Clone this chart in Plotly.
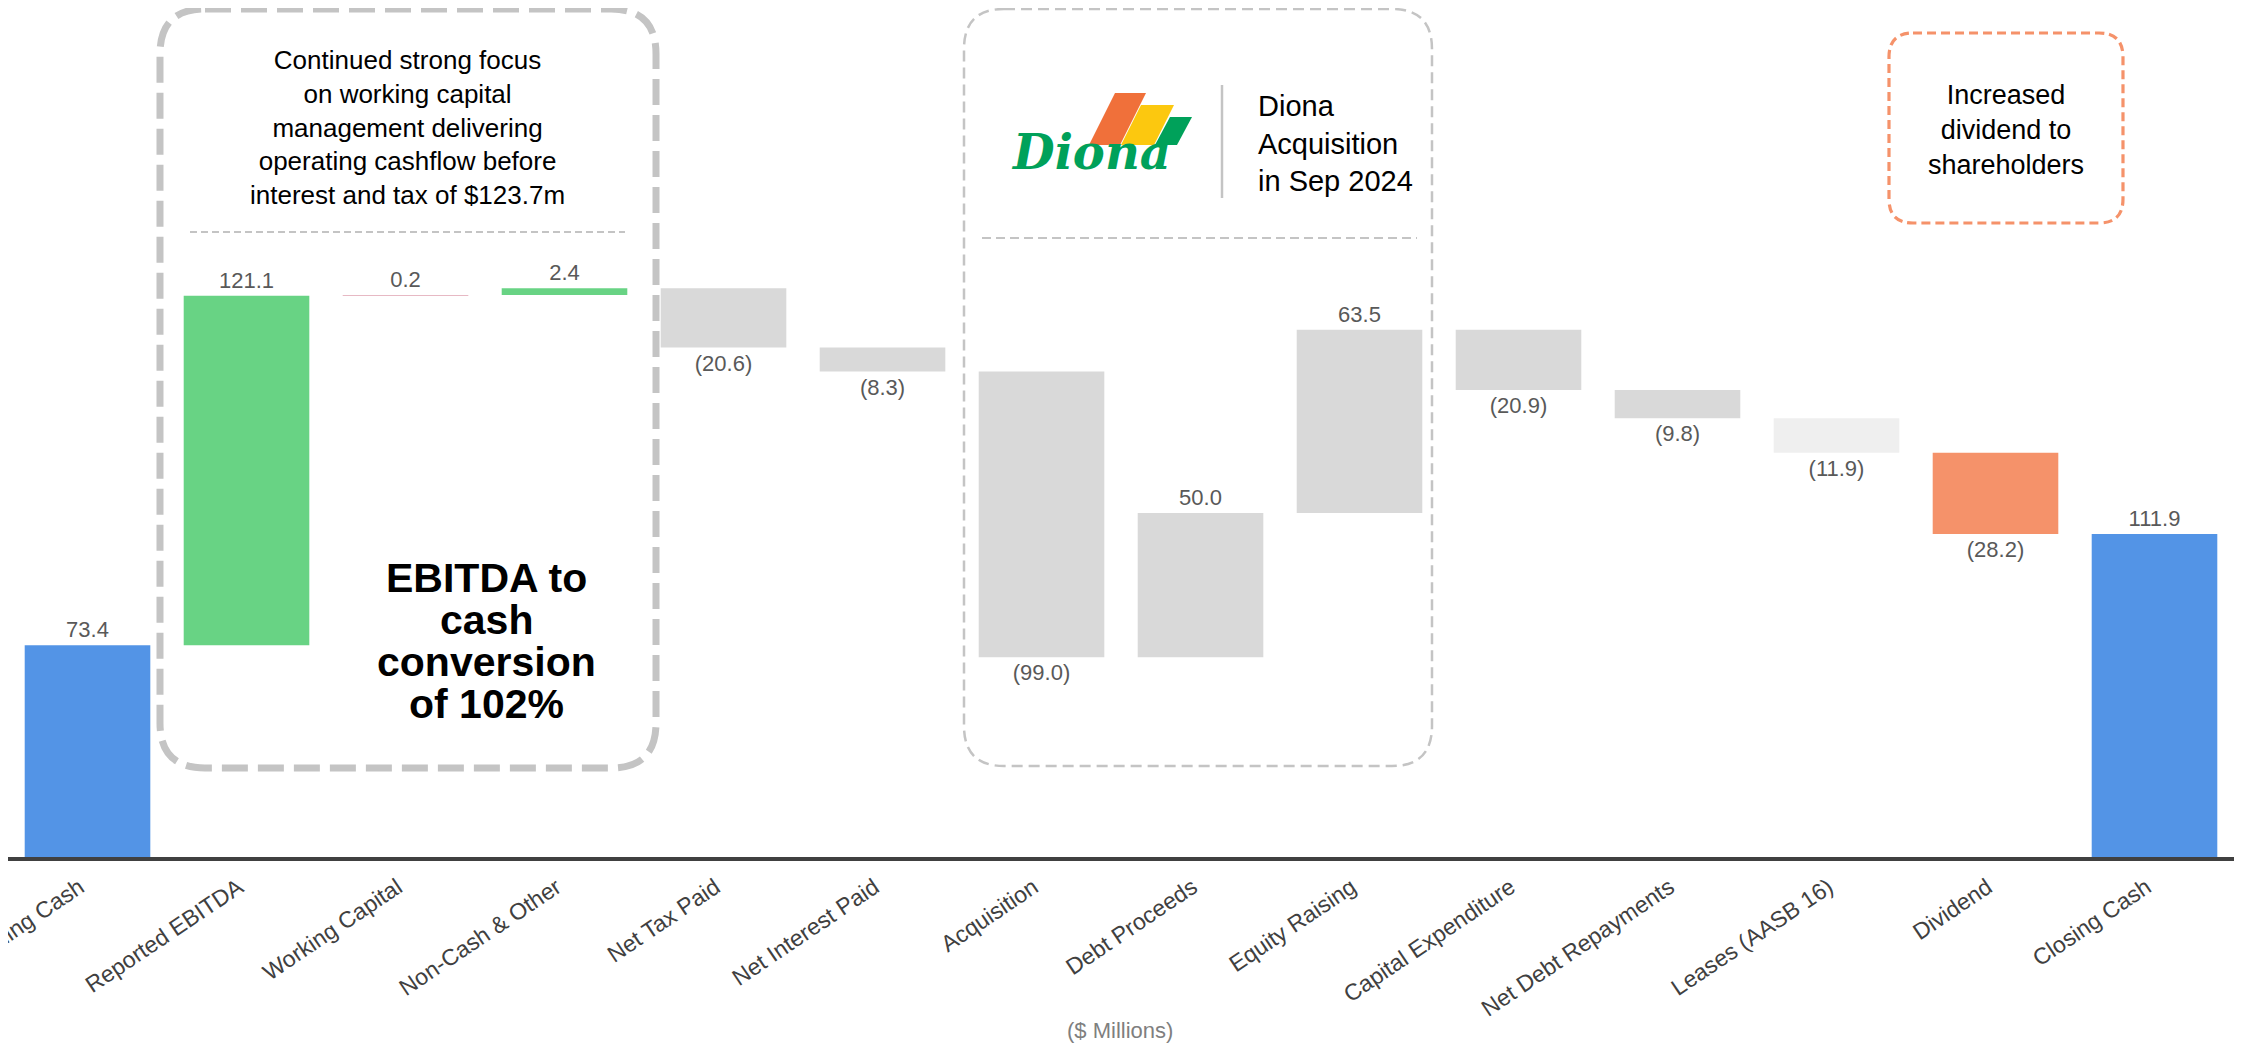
import plotly.graph_objects as go

# ---------------- data ----------------
categories = ["Opening Cash", "Reported EBITDA", "Working Capital", "Non-Cash & Other",
              "Net Tax Paid", "Net Interest Paid", "Acquisition", "Debt Proceeds",
              "Equity Raising", "Capital Expenditure", "Net Debt Repayments",
              "Leases (AASB 16)", "Dividend", "Closing Cash"]
movements = [73.4, 121.1, 0.2, 2.4, -20.6, -8.3, -99.0, 50.0, 63.5, -20.9, -9.8, -11.9, -28.2, 111.9]
kinds = ["total", "delta", "delta", "delta", "delta", "delta", "delta", "delta",
         "delta", "delta", "delta", "delta", "delta", "total"]
bar_colors = ["#5394E6", "#68D384", "#E7B9C4", "#68D384", "#D9D9D9", "#D9D9D9", "#D9D9D9",
              "#D9D9D9", "#D9D9D9", "#D9D9D9", "#D9D9D9", "#EFEFEF", "#F5926A", "#5394E6"]

box1_text = ["Continued strong focus", "on working capital", "management delivering",
             "operating cashflow before", "interest and tax of $123.7m"]
box1_big = ["EBITDA to", "cash", "conversion", "of 102%"]
box2_text = ["Diona", "Acquisition", "in Sep 2024"]
box3_text = ["Increased", "dividend to", "shareholders"]

# ---------------- layout geometry ----------------
OFF = 8  # page body offset
W, H = 2234, 1042
ML, MR, MT, MB = 0, 8, 0, 193
PW = W - ML - MR
PH = H - MT - MB
Y_MAX = PH / 2.886
FONT = "Liberation Sans, Arial, sans-serif"


def px(x):
    return (x - OFF - ML) / PW


def py(y):
    return (H - MB - (y - OFF)) / PH


def rrect(x0, y0, x1, y1, r):
    pts = [("M", [(x0 + r, y0)]), ("L", [(x1 - r, y0)]), ("Q", [(x1, y0), (x1, y0 + r)]),
           ("L", [(x1, y1 - r)]), ("Q", [(x1, y1), (x1 - r, y1)]), ("L", [(x0 + r, y1)]),
           ("Q", [(x0, y1), (x0, y1 - r)]), ("L", [(x0, y0 + r)]), ("Q", [(x0, y0), (x0 + r, y0)])]
    s = ""
    for cmd, ps in pts:
        s += cmd + " " + " ".join(f"{px(a):.5f},{py(b):.5f}" for a, b in ps) + " "
    return s + "Z"


def poly(points):
    return "M " + " L ".join(f"{px(a):.5f},{py(b):.5f}" for a, b in points) + " Z"


# ---------------- waterfall computation ----------------
bases, heights = [], []
running = 0.0
for k, v in zip(kinds, movements):
    if k == "total":
        bases.append(0.0)
        heights.append(v)
        running = v
    else:
        bases.append(running)
        heights.append(v)
        running += v

labels = [f"{v:.1f}" if v >= 0 else f"({abs(v):.1f})" for v in movements]

fig = go.Figure()
fig.add_trace(go.Bar(
    x=categories, y=heights, base=bases,
    marker=dict(color=bar_colors, line=dict(width=0)),
    text=labels, textposition="outside", textangle=0,
    textfont=dict(family=FONT, size=22, color="#595959"),
    cliponaxis=False, constraintext="none", hoverinfo="skip",
))

shapes = []
# Box 1: thick grey dashed rounded box
shapes.append(dict(type="path", xref="paper", yref="paper", path=rrect(160, 9, 656, 768, 45),
                   line=dict(color="#C4C4C4", width=7, dash="26px,10px"), layer="below"))
shapes.append(dict(type="line", xref="paper", yref="paper", x0=px(190), x1=px(625), y0=py(232), y1=py(232),
                   line=dict(color="#C4C4C4", width=2, dash="7px,4px")))
# Box 2: thin grey dashed rounded box
shapes.append(dict(type="path", xref="paper", yref="paper", path=rrect(964, 9, 1432, 766, 40),
                   line=dict(color="#C4C4C4", width=2.5, dash="11px,6px"), layer="below"))
shapes.append(dict(type="line", xref="paper", yref="paper", x0=px(982), x1=px(1417), y0=py(238), y1=py(238),
                   line=dict(color="#C4C4C4", width=2, dash="9px,5px")))
shapes.append(dict(type="line", xref="paper", yref="paper", x0=px(1222), x1=px(1222), y0=py(85), y1=py(198),
                   line=dict(color="#C4C4C4", width=2.5)))
# Diona logo stripes
shapes.append(dict(type="path", xref="paper", yref="paper",
                   path=poly([(1115, 93), (1146, 93), (1120, 145), (1089, 145)]),
                   fillcolor="#F0703A", line=dict(width=0)))
shapes.append(dict(type="path", xref="paper", yref="paper",
                   path=poly([(1141, 105), (1174, 105), (1154, 145), (1121, 145)]),
                   fillcolor="#FCC80F", line=dict(width=0)))
shapes.append(dict(type="path", xref="paper", yref="paper",
                   path=poly([(1170, 117), (1192, 117), (1177, 145), (1155, 145)]),
                   fillcolor="#00A15A", line=dict(width=0)))
# Box 3: orange dashed rounded box
shapes.append(dict(type="path", xref="paper", yref="paper", path=rrect(1889, 33, 2123, 223, 24),
                   line=dict(color="#F5926A", width=3.2, dash="9px,5px"), layer="below"))
# faint partial circle at left edge
shapes.append(dict(type="circle", xref="paper", yref="paper", x0=px(-28), x1=px(6), y0=py(122), y1=py(156),
                   line=dict(color="#CFCFCF", width=2.5)))

annotations = []
annotations.append(dict(xref="paper", yref="paper", x=px(407), y=py(127), xanchor="center", yanchor="middle",
                        text="<br>".join(box1_text), showarrow=False, align="center",
                        font=dict(family=FONT, size=26, color="#000000")))
big_y = [578, 620, 662, 704]
for line_txt, yy in zip(box1_big, big_y):
    annotations.append(dict(xref="paper", yref="paper", x=px(486), y=py(yy), xanchor="center", yanchor="middle",
                            text=line_txt, showarrow=False,
                            font=dict(family=FONT, size=41, color="#000000", weight="bold")))
annotations.append(dict(xref="paper", yref="paper", x=px(1256), y=py(143), xanchor="left", yanchor="middle",
                        text="<br>".join(box2_text), showarrow=False, align="left",
                        font=dict(family=FONT, size=29, color="#000000")))
annotations.append(dict(xref="paper", yref="paper", x=px(1091), y=py(152), xanchor="center", yanchor="middle",
                        text="Diona", showarrow=False,
                        font=dict(family="DejaVu Serif", size=48, color="#00A15A", weight="bold", style="italic")))
annotations.append(dict(xref="paper", yref="paper", x=px(2006), y=py(130), xanchor="center", yanchor="middle",
                        text="<br>".join(box3_text), showarrow=False, align="center",
                        font=dict(family=FONT, size=27, color="#000000")))
annotations.append(dict(xref="paper", yref="paper", x=px(1120), y=py(1030), xanchor="center", yanchor="middle",
                        text="($ Millions)", showarrow=False,
                        font=dict(family=FONT, size=22, color="#7F7F7F")))

fig.update_layout(
    width=W, height=H,
    margin=dict(l=ML, r=MR, t=MT, b=MB, autoexpand=False),
    paper_bgcolor="white", plot_bgcolor="white",
    showlegend=False, bargap=0.21,
    shapes=shapes, annotations=annotations,
    xaxis=dict(type="category", showline=True, linecolor="#404040", linewidth=4,
               showgrid=False, ticks="", tickangle=-34, automargin=False, ticklabelshift=-8,
               ticklabelstandoff=4,
               tickfont=dict(family=FONT, size=23, color="#404040")),
    yaxis=dict(range=[0, Y_MAX], visible=False, showgrid=False, zeroline=False, fixedrange=True),
)

fig.write_html("out.html")
